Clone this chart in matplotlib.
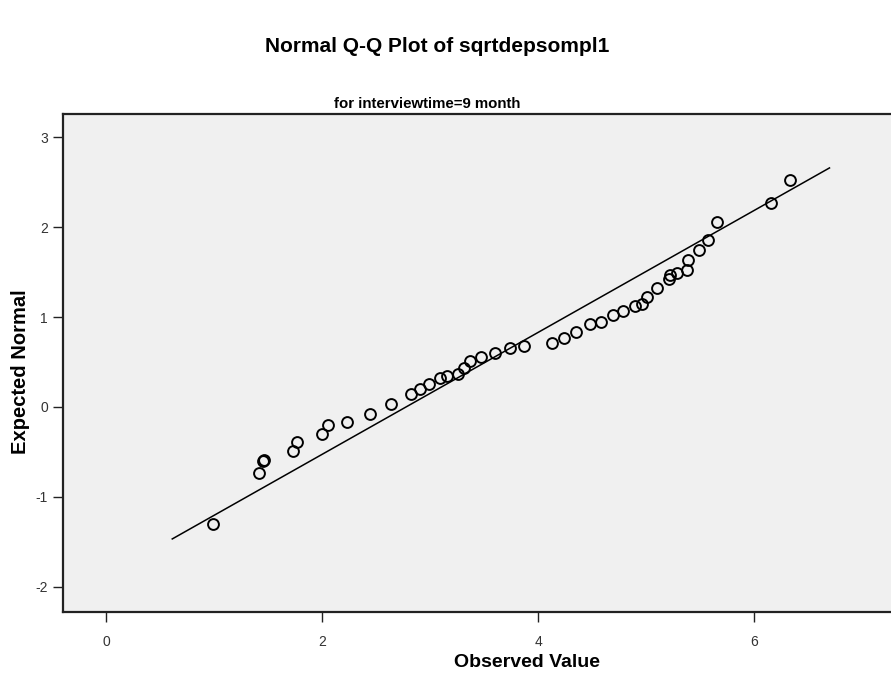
import matplotlib.pyplot as plt
from matplotlib.ticker import FuncFormatter

observed = [0.99, 1.41, 1.45, 1.46, 1.73, 1.77, 2.00, 2.05, 2.23, 2.44,
            2.64, 2.82, 2.91, 2.99, 3.09, 3.16, 3.26, 3.31, 3.37, 3.47,
            3.60, 3.74, 3.87, 4.13, 4.24, 4.35, 4.48, 4.58, 4.69, 4.79,
            4.90, 4.96, 5.01, 5.10, 5.21, 5.22, 5.29, 5.38, 5.39, 5.49,
            5.57, 5.66, 6.16, 6.33]
expected = [-1.30, -0.74, -0.60, -0.59, -0.49, -0.39, -0.30, -0.20, -0.17, -0.08,
            0.03, 0.14, 0.20, 0.25, 0.32, 0.34, 0.37, 0.43, 0.51, 0.55,
            0.60, 0.65, 0.68, 0.71, 0.77, 0.83, 0.92, 0.95, 1.02, 1.07,
            1.12, 1.15, 1.22, 1.32, 1.42, 1.47, 1.49, 1.52, 1.64, 1.75,
            1.86, 2.06, 2.27, 2.53]

# reference line endpoints
line_x = [0.61, 6.70]
line_y = [-1.47, 2.66]

xticks = [0, 2, 4, 6]
yticks = [-2, -1, 0, 1, 2, 3]

plt.rcParams['font.family'] = ['Liberation Sans', 'DejaVu Sans']

fig = plt.figure(figsize=(8.91, 6.84), dpi=100)
ax = fig.add_axes([0.071, 0.1057, 0.929, 0.7276])
ax.set_facecolor('#f0f0f0')

ax.plot(line_x, line_y, color='black', linewidth=1.1)
ax.plot(observed, expected, linestyle='none', marker='o', markersize=7.8,
        markerfacecolor='none', markeredgecolor='black', markeredgewidth=1.4)

ax.set_xlim(-0.40, 7.27)
ax.set_ylim(-2.28, 3.26)
ax.set_xticks(xticks)
ax.set_yticks(yticks)
# plain hyphen for negatives, as in the original
fmt = FuncFormatter(lambda v, pos: '%d' % v)
ax.xaxis.set_major_formatter(fmt)
ax.yaxis.set_major_formatter(fmt)
ax.tick_params(direction='out', length=7, width=1, color='#222222',
               labelsize=10, labelcolor='#333333', pad=4)
ax.tick_params(axis='x', pad=10)

for side in ['top', 'left', 'bottom']:
    ax.spines[side].set_linewidth(1.6)
    ax.spines[side].set_color('#222222')
ax.spines['right'].set_visible(False)

ax.set_xlabel('Observed Value', fontsize=14, fontweight='bold', va='center')
ax.xaxis.set_label_coords(0.560, -0.103)
ax.set_ylabel('Expected Normal', fontsize=14.5, fontweight='bold', va='center')
ax.yaxis.set_label_coords(-0.052, 0.482)

fig.text(0.491, 1 - 47 / 684, 'Normal Q-Q Plot of sqrtdepsompl1', ha='center',
         va='center', fontsize=15, fontweight='bold')
fig.text(0.479, 1 - 104 / 684, 'for interviewtime=9 month', ha='center',
         va='center', fontsize=10.8, fontweight='bold')

fig.savefig('out.png', dpi=100)
